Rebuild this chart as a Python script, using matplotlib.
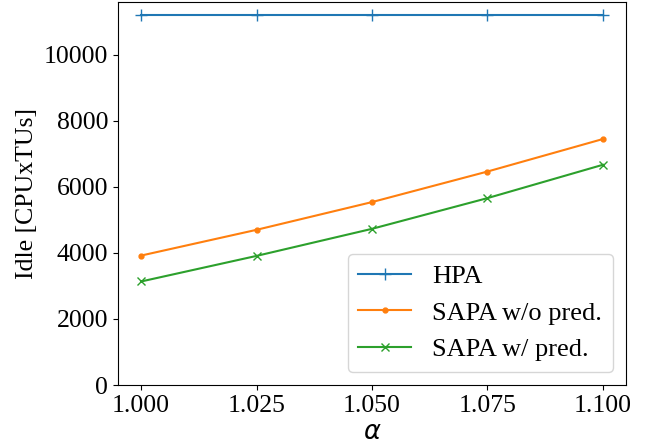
import matplotlib
matplotlib.use("Agg")
import matplotlib.pyplot as plt

alpha = [1.000, 1.025, 1.050, 1.075, 1.100]
hpa = [11220, 11220, 11220, 11220, 11220]
sapa_wo = [3920, 4700, 5540, 6465, 7450]
sapa_w = [3135, 3910, 4730, 5660, 6670]

plt.rcParams['font.family'] = ['Liberation Serif', 'DejaVu Serif']
plt.rcParams['font.size'] = 18.5
plt.rcParams['mathtext.fontset'] = 'dejavusans'

fig = plt.figure(figsize=(6.53, 4.47), dpi=100)
ax = fig.add_axes([118/653, 62/447, (626-118)/653, (385-2)/447])
ax.plot(alpha, hpa, marker='+', markersize=8, label='HPA')
ax.plot(alpha, sapa_wo, marker='.', markersize=7, label='SAPA w/o pred.')
ax.plot(alpha, sapa_w, marker='x', markersize=6, label='SAPA w/ pred.')
ax.set_ylim(0, 11600)
ax.set_xticks([1.000, 1.025, 1.050, 1.075, 1.100])
ax.set_xticklabels(['1.000', '1.025', '1.050', '1.075', '1.100'])
ax.set_xlabel(r'$\alpha$')
ax.set_ylabel('Idle [CPUxTUs]')
ax.legend(loc='lower right', fontsize=19)
fig.savefig('out.png', dpi=100)
